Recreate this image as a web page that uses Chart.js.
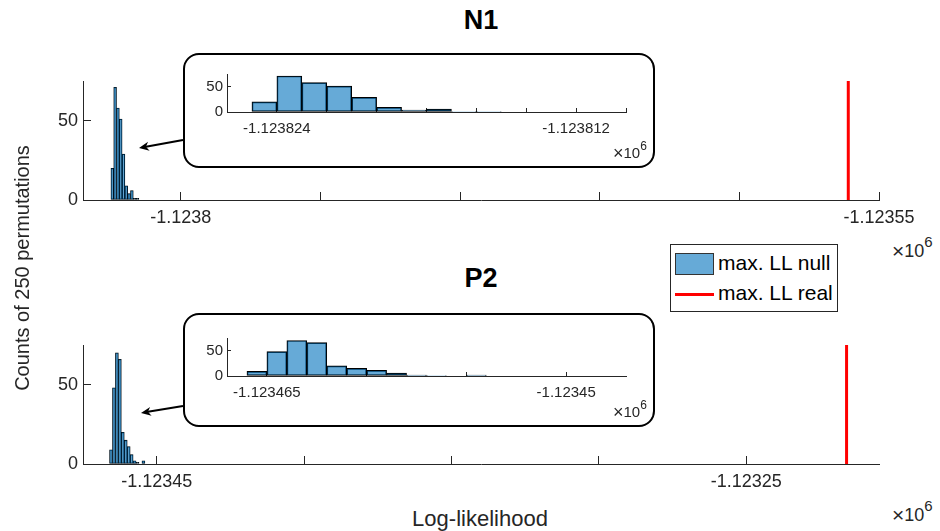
<!DOCTYPE html>
<html>
<head>
<meta charset="utf-8">
<script src="https://cdn.jsdelivr.net/npm/chart.js@4.4.1/dist/chart.umd.min.js"></script>
<style>
  body { margin: 0; background: #fff; }
  #fig { position: relative; width: 940px; height: 531px; overflow: hidden;
         font-family: 'Liberation Sans', Arial, Helvetica, sans-serif; color: #262626; }
  canvas, .abs { position: absolute; }
  .box { position: absolute; border: 2px solid #000; border-radius: 16px; background: #fff; box-sizing: border-box; }
  .title { position: absolute; width: 200px; text-align: center; font-weight: bold; font-size: 27px; line-height: 1; color: #000; }
  .exp { position: absolute; line-height: 1; white-space: nowrap; }
  .exp span { position: relative; }
  #legend { position: absolute; left: 670px; top: 244px; width: 168px; height: 68px; box-sizing: border-box;
            border: 1px solid #262626; background: #fff; font-size: 21px; color: #000; }
  #legend .row { position: absolute; left: 4px; height: 24px; line-height: 24px; white-space: nowrap; }
  #legend .patch { display: inline-block; width: 39px; height: 22px; box-sizing: border-box; vertical-align: middle;
                   background: rgba(0, 114, 189, 0.6); border: 1px solid #333; margin-right: 4px; }
  #legend .rline { display: inline-block; width: 39px; height: 3px; vertical-align: middle; background: #ff0000; margin-right: 4px; }
</style>
</head>
<body>
<div id="fig">
  <div class="title" style="left:381px; top:7px;">N1</div>
  <div class="title" style="left:381px; top:265px;">P2</div>

  <canvas id="main1" width="940" height="160" style="left:0; top:70px;"></canvas>
  <canvas id="main2" width="940" height="160" style="left:0; top:334px;"></canvas>

  <div class="box" style="left:183px; top:53px; width:472px; height:115px;"></div>
  <div class="box" style="left:183px; top:313px; width:472px; height:114px;"></div>
  <canvas id="inset1" width="520" height="90" style="left:140px; top:60px;"></canvas>
  <canvas id="inset2" width="520" height="90" style="left:140px; top:320px;"></canvas>

  <div class="exp" style="left:892px; top:239px; font-size:18px;"><span style="font-size:21px; top:1px;">&times;</span>10<span style="font-size:15px; top:-10px;">6</span></div>
  <div class="exp" style="left:892px; top:503px; font-size:18px;"><span style="font-size:21px; top:1px;">&times;</span>10<span style="font-size:15px; top:-10px;">6</span></div>
  <div class="exp" style="left:613px; top:143px; font-size:15px;"><span style="font-size:18px; top:1px;">&times;</span>10<span style="font-size:12px; top:-8px;">6</span></div>
  <div class="exp" style="left:613px; top:402px; font-size:15px;"><span style="font-size:18px; top:1px;">&times;</span>10<span style="font-size:12px; top:-8px;">6</span></div>

  <div id="legend">
    <div class="row" style="top:6px;"><span class="patch"></span>max. LL null</div>
    <div class="row" style="top:36px;"><span class="rline"></span>max. LL real</div>
  </div>

  <div class="abs" style="left:22px; top:268px; transform:translate(-50%,-50%) rotate(-90deg); font-size:20px; white-space:nowrap;">Counts of 250 permutations</div>
  <div class="abs" style="left:380px; width:200px; top:508px; text-align:center; font-size:22px; line-height:1;">Log-likelihood</div>

  <svg id="arrows" class="abs" width="940" height="531" style="left:0; top:0;"></svg>
</div>

<script>
// N1: histogram of max. LL under permutation (bin width 1)
const n1Bins = [-1123824.5, -1123823.5, -1123822.5, -1123821.5, -1123820.5,
                -1123819.5, -1123818.5, -1123817.5, -1123816.5, -1123815.5];
const n1Counts = [20, 71, 58, 51, 29, 9, 4, 6, 1, 1];
const n1Real = -1123561;
const n1Ticks = [-1123800, -1123750, -1123700, -1123650, -1123600, -1123550];
const n1TickLabels = ['-1.1238', '', '', '', '', '-1.12355'];
const n1InsetTicks = [-1123826, -1123824, -1123822, -1123820, -1123818, -1123816, -1123814, -1123812, -1123810];
const n1InsetLabels = ['', '-1.123824', '', '', '', '', '', '-1.123812', ''];

// P2
const p2Bins = [-1123465.5, -1123464.5, -1123463.5, -1123462.5, -1123461.5, -1123460.5,
                -1123459.5, -1123458.5, -1123457.5, -1123456.5, -1123455.5, -1123454.5];
const p2Counts = [9, 48, 70, 66, 20, 15, 11, 6, 2, 1, 0, 2];
const p2Real = -1123216;
const p2Ticks = [-1123450, -1123400, -1123350, -1123300, -1123250];
const p2TickLabels = ['-1.12345', '', '', '', '-1.12325'];
const p2InsetTicks = [-1123465, -1123460, -1123455, -1123450];
const p2InsetLabels = ['-1.123465', '', '', '-1.12345'];

const yTicks = [0, 50];
const yTickLabels = ['0', '50'];
const yMax = 75;

const axisColor = '#262626';
const barFill = 'rgba(0, 114, 189, 0.6)';
const barEdge = '#000';

Chart.defaults.font.family = "'Liberation Sans', Arial, Helvetica, sans-serif";

function histChart(id, o) {
  const datasets = [{
    type: 'bar',
    data: o.bins.map((b, i) => ({x: b, y: o.counts[i]})),
    backgroundColor: barFill,
    borderColor: barEdge,
    borderWidth: o.edge,
    borderSkipped: false,
    barPercentage: 1,
    categoryPercentage: 1
  }];
  if (o.real !== undefined) {
    datasets.push({
      type: 'line',
      data: [{x: o.real, y: 0}, {x: o.real, y: yMax}],
      borderColor: '#ff0000',
      borderWidth: 3,
      pointRadius: 0
    });
  }
  return new Chart(document.getElementById(id), {
    type: 'bar',
    data: {datasets: datasets},
    options: {
      responsive: false,
      animation: false,
      events: [],
      layout: {padding: o.pad},
      plugins: {legend: {display: false}, tooltip: {enabled: false}},
      scales: {
        x: {
          type: 'linear', min: o.xMin, max: o.xMax, offset: false,
          afterFit: s => { s.height = o.xH; s.paddingLeft = 0; s.paddingRight = 0; },
          afterBuildTicks: s => { s.ticks = o.xTicks.map(v => ({value: v})); },
          grid: {drawOnChartArea: false, drawTicks: true, tickLength: -o.tl, color: axisColor, offset: false},
          border: {display: true, color: axisColor, width: 1},
          ticks: {font: {size: o.fs}, color: axisColor, padding: o.xPad, maxRotation: 0, autoSkip: false,
                  callback: (v, i) => o.xLabels[i]}
        },
        y: {
          min: 0, max: yMax,
          afterFit: s => { s.width = o.yW; s.paddingTop = 0; s.paddingBottom = 0; },
          afterBuildTicks: s => { s.ticks = yTicks.map(v => ({value: v})); },
          grid: {drawOnChartArea: false, drawTicks: true, tickLength: -o.tl, color: axisColor},
          border: {display: true, color: axisColor, width: 1},
          ticks: {font: {size: o.fs}, color: axisColor, padding: o.yPad, autoSkip: false,
                  callback: (v, i) => yTickLabels[i]}
        }
      }
    }
  });
}

histChart('main1', {
  bins: n1Bins, counts: n1Counts, real: n1Real,
  xMin: -1123835, xMax: -1123550, xTicks: n1Ticks, xLabels: n1TickLabels,
  pad: {top: 11, right: 61, left: 0, bottom: 0}, xH: 30, yW: 83,
  tl: 8, fs: 18, xPad: 15, yPad: 13, edge: 0.6
});
histChart('main2', {
  bins: p2Bins, counts: p2Counts, real: p2Real,
  xMin: -1123475, xMax: -1123205, xTicks: p2Ticks, xLabels: p2TickLabels,
  pad: {top: 11, right: 61, left: 0, bottom: 0}, xH: 30, yW: 83,
  tl: 8, fs: 18, xPad: 15, yPad: 13, edge: 0.6
});
histChart('inset1', {
  bins: n1Bins, counts: n1Counts,
  xMin: -1123826, xMax: -1123810, xTicks: n1InsetTicks, xLabels: n1InsetLabels,
  pad: {top: 14, right: 34, left: 0, bottom: 0}, xH: 38, yW: 87,
  tl: 4, fs: 15, xPad: 12, yPad: 8, edge: 1
});
histChart('inset2', {
  bins: p2Bins, counts: p2Counts,
  xMin: -1123467, xMax: -1123447, xTicks: p2InsetTicks, xLabels: p2InsetLabels,
  pad: {top: 18, right: 34, left: 0, bottom: 0}, xH: 34, yW: 87,
  tl: 4, fs: 15, xPad: 12, yPad: 8, edge: 1
});

// annotation arrows from the zoom boxes to the histograms
function arrow(x1, y1, x2, y2) {
  const svg = document.getElementById('arrows');
  const dx = x2 - x1, dy = y2 - y1, len = Math.hypot(dx, dy);
  const ux = dx / len, uy = dy / len, nx = -uy, ny = ux;
  const hl = 10, hw = 4.5;
  const bx = x2 - ux * hl, by = y2 - uy * hl;
  const line = document.createElementNS('http://www.w3.org/2000/svg', 'line');
  line.setAttribute('x1', x1); line.setAttribute('y1', y1);
  line.setAttribute('x2', bx + ux * 3); line.setAttribute('y2', by + uy * 3);
  line.setAttribute('stroke', '#000'); line.setAttribute('stroke-width', '2');
  svg.appendChild(line);
  const head = document.createElementNS('http://www.w3.org/2000/svg', 'polygon');
  const nxp = x2 - ux * hl * 0.7, nyp = y2 - uy * hl * 0.7;
  head.setAttribute('points', [
    [x2, y2], [bx + nx * hw, by + ny * hw], [nxp, nyp], [bx - nx * hw, by - ny * hw]
  ].map(p => p.join(',')).join(' '));
  head.setAttribute('fill', '#000');
  svg.appendChild(head);
}
arrow(183, 140, 139, 148);
arrow(183, 406, 141, 413);
</script>
</body>
</html>
